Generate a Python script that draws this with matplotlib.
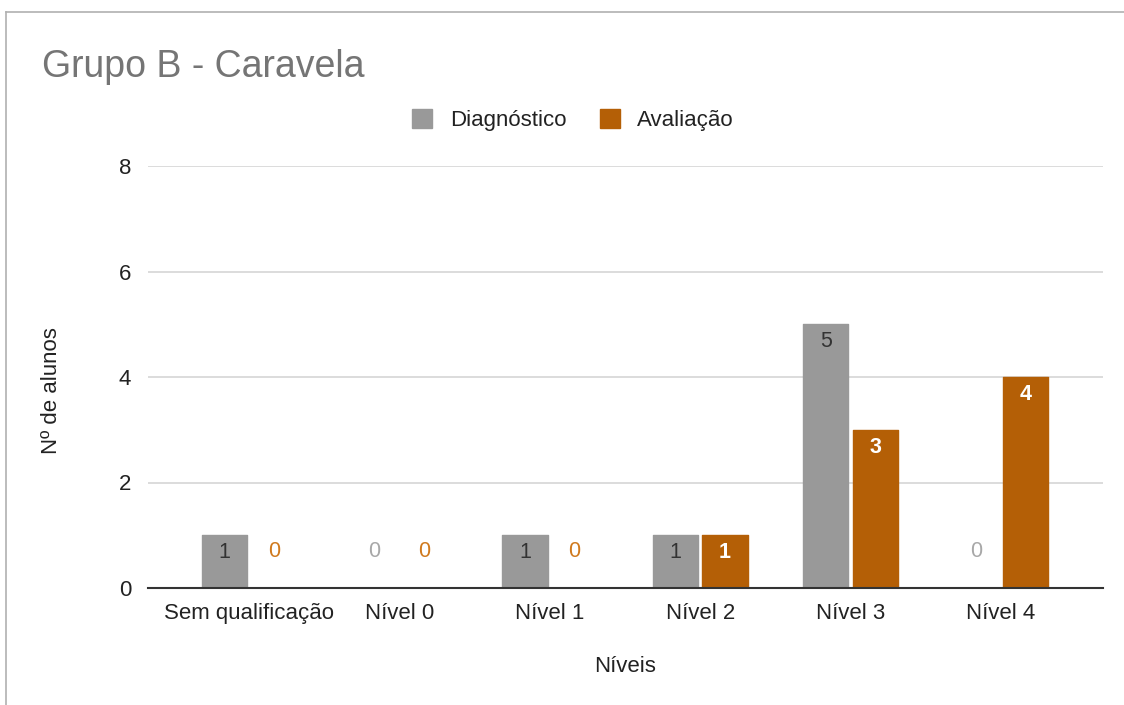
import matplotlib
matplotlib.use("Agg")
import matplotlib.pyplot as plt
from matplotlib.patches import Patch
from matplotlib.lines import Line2D
import numpy as np

categories = ["Sem qualificação", "Nível 0", "Nível 1", "Nível 2", "Nível 3", "Nível 4"]
diagnostico = [1, 0, 1, 1, 5, 0]
avaliacao = [0, 0, 0, 1, 3, 4]
series_names = ["Diagnóstico", "Avaliação"]
yticks = [0, 2, 4, 6, 8]

GRAY = "#999999"
ORANGE = "#b45f06"
FONT = ["Liberation Sans", "DejaVu Sans"]
plt.rcParams["font.family"] = FONT
FS = 16
LFS = 15.5

fig = plt.figure(figsize=(11.24, 7.05), dpi=100)
ax = fig.add_axes([148/1124, 1-588/705, (1103-148)/1124, (588-166)/705])

x = np.arange(len(categories))
w = 0.30
off = 0.165
ax.bar(x - off, diagnostico, w, color=GRAY, edgecolor=GRAY, linewidth=1, joinstyle="round", zorder=3)
ax.bar(x + off, avaliacao, w, color=ORANGE, edgecolor=ORANGE, linewidth=1, joinstyle="round", zorder=3)

for xi, v in zip(x - off, diagnostico):
    if v > 0:
        ax.annotate(str(v), (xi, v), xytext=(0, -12.5), textcoords="offset points",
                    ha="center", va="center", fontsize=LFS, color="#333333", zorder=4)
    else:
        ax.annotate(str(v), (xi, 0), xytext=(0, 26), textcoords="offset points",
                    ha="center", va="center", fontsize=LFS, color="#a8a8a8", zorder=4)
for xi, v in zip(x + off, avaliacao):
    if v > 0:
        ax.annotate(str(v), (xi, v), xytext=(0, -12.5), textcoords="offset points",
                    ha="center", va="center", fontsize=LFS, color="white", fontweight="bold", zorder=4)
    else:
        ax.annotate(str(v), (xi, 0), xytext=(0, 26), textcoords="offset points",
                    ha="center", va="center", fontsize=LFS, color="#d07a1e", zorder=4)

ax.set_xlim(-0.6715, 5.678)
ax.set_ylim(0, 8)
ax.set_yticks(yticks)
ax.set_yticklabels([str(t) for t in yticks])
ax.set_xticks(x)
ax.set_xticklabels(categories)
ax.tick_params(axis="both", length=0, labelsize=FS, colors="#222222")
ax.tick_params(axis="x", pad=11)
ax.tick_params(axis="y", pad=12)
for s in ["top", "right", "left"]:
    ax.spines[s].set_visible(False)
ax.spines["bottom"].set_color("#333333")
ax.spines["bottom"].set_linewidth(1.5)
ax.spines["bottom"].set_zorder(5)
ax.yaxis.grid(True, color="#d9d9d9", linewidth=1.3, zorder=0)
ax.set_axisbelow(True)

fig.text(42/1124, 1-67/705, "Grupo B - Caravela", fontsize=27, color="#757575", ha="left", va="center")
fig.text(52/1124, 1-391/705, "Nº de alunos", fontsize=FS, color="#222222", rotation=90, ha="center", va="center")
fig.text(625/1124, 1-667/705, "Níveis", fontsize=FS, color="#222222", ha="center", va="center")

handles = [Patch(facecolor=GRAY, edgecolor=GRAY), Patch(facecolor=ORANGE, edgecolor=ORANGE)]
leg = fig.legend(handles, series_names, loc="center", bbox_to_anchor=(573/1124, 1-120/705), ncol=2,
                 frameon=False, fontsize=FS, handlelength=0.9, handleheight=0.9, handletextpad=0.8,
                 columnspacing=1.5)
for t in leg.get_texts():
    t.set_color("#222222")

fig.add_artist(Line2D([6/1124, 1], [1-12/705, 1-12/705], transform=fig.transFigure, color="#b0b0b0", linewidth=1.2))
fig.add_artist(Line2D([6/1124, 6/1124], [0, 1-12/705], transform=fig.transFigure, color="#b0b0b0", linewidth=1.2))

fig.savefig("out.png", dpi=100, facecolor="white")
